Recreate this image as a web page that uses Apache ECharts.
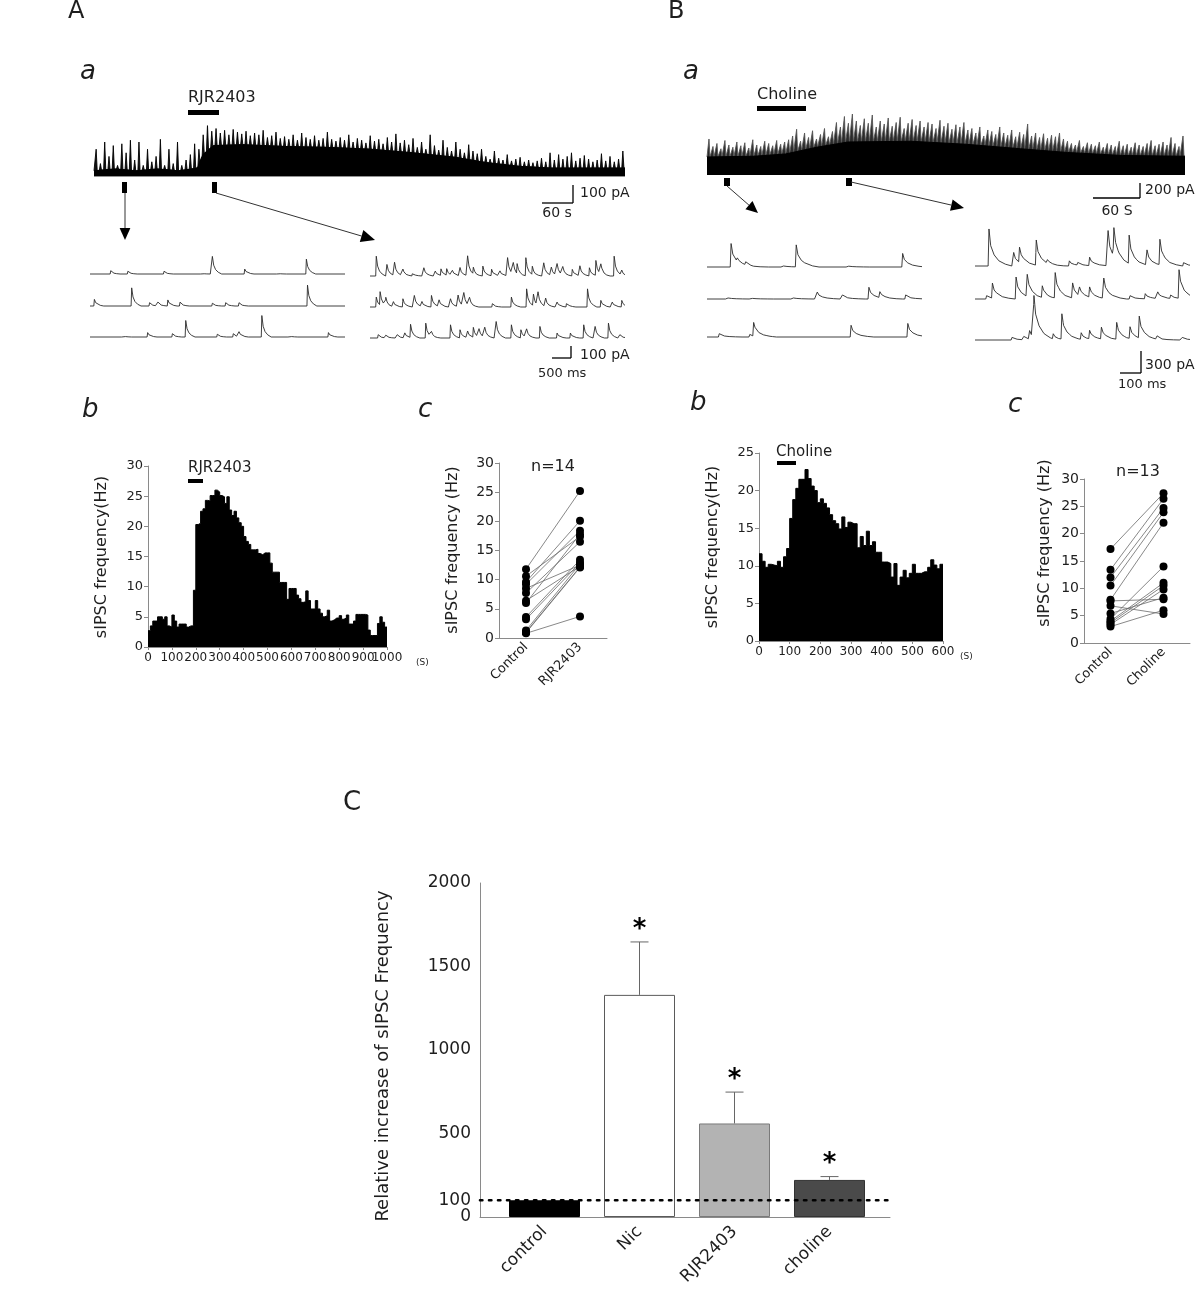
<!DOCTYPE html>
<html><head><meta charset="utf-8">
<script src="https://cdn.jsdelivr.net/npm/echarts@6/dist/echarts.min.js"></script>
<style>html,body{margin:0;padding:0;background:#fff}#c{width:1200px;height:1296px}</style>
</head><body><div id="c"></div>
<script>
// ---------------- DATA ----------------
// Panel A(a): long recording, peak amplitude (pA) of successive events, 0-1000 s
const peaksA = [150,70,190,110,170,60,180,130,200,90,190,60,150,80,110,205,60,150,70,190,60,90,120,180,
  150,230,
  283,250,265,240,255,230,260,245,235,250,225,240,230,255,215,225,245,210,220,205,230,200,240,215,205,225,200,210,245,205,195,215,200,230,190,210,200,185,225,195,205,180,215,190,235,185,200,175,
  210,160,190,150,230,170,145,200,160,140,190,150,130,175,140,125,
  150,110,95,140,100,90,120,85,95,105,80,90,75,85,100,80,130,90,120,95,110,130,85,100,115,95,80,90,125,85,110,80,95,140];
// dense activity envelope [s, pA]
const coreA = [[0,30],[40,40],[80,30],[120,40],[160,30],[195,45],[205,120],[225,170],[280,175],[360,165],[440,160],[520,150],[600,130],[680,105],[740,75],[800,55],[860,45],[920,45],[1000,45]];
const durA = 1000;
// Panel B(a): long recording, 0-610 s
const peaksB = [480,380,420,350,460,400,370,440,390,430,360,470,400,380,450,420,390,460,410,440,
  470,520,610,450,560,500,590,480,540,620,510,580,
  700,640,780,690,813,720,660,750,690,800,640,720,680,760,650,700,770,620,690,740,660,720,640,700,680,620,730,650,690,610,670,640,700,600,
  620,560,640,520,600,580,540,640,560,530,600,510,570,540,680,520,560,500,550,490,530,510,560,480,
  450,420,400,460,380,430,410,390,440,370,420,400,380,450,390,410,370,430,400,380,420,460,390,410,440,400,500,420,380,520];
const coreB = [[0,240],[60,250],[100,280],[140,370],[180,440],[260,450],[330,410],[400,350],[460,300],[530,260],[610,250]];
const durB = 610;

// Expanded sweeps: events [time (s), amplitude (pA)]
const evA_pre = [
  [[0.53,30],[0.98,25],[1.93,25],[2.9,8],[3.2,160],[4.05,45],[4.9,8],[5.67,135]],
  [[0.1,60],[1.08,165],[1.55,30],[1.77,35],[2.03,55],[2.35,35],[3.2,25],[3.55,30],[3.9,30],[5.7,190]],
  [[0.83,15],[1.5,40],[2.15,30],[2.5,150],[3.33,25],[3.75,30],[3.9,45],[4.5,195],[5.2,15],[6.25,40]]
];
const evA_post = [
  [[0.15,180],[0.43,105],[0.63,120],[0.85,60],[1.1,30],[1.4,75],[1.7,45],[1.85,60],[2.0,60],[2.15,45],[2.35,75],[2.55,180],[2.7,60],[2.95,90],[3.18,60],[3.4,45],[3.6,165],[3.75,105],[3.85,90],[4.08,165],[4.25,75],[4.55,120],[4.75,75],[4.9,105],[5.05,75],[5.3,60],[5.5,90],[5.75,75],[5.92,135],[6.05,90],[6.4,180],[6.6,45]],
  [[0.15,90],[0.25,120],[0.4,75],[0.6,45],[0.85,75],[1.15,105],[1.35,45],[1.6,105],[1.8,60],[2.1,75],[2.3,105],[2.45,120],[2.6,75],[3.2,30],[3.7,90],[4.1,165],[4.28,105],[4.4,120],[4.6,75],[4.9,45],[5.15,45],[5.7,165],[6.05,60],[6.35,45],[6.6,60]],
  [[0.2,30],[0.4,24],[0.7,30],[0.9,45],[1.05,120],[1.45,135],[1.6,45],[2.1,120],[2.35,75],[2.55,60],[2.7,90],[2.85,75],[3.0,90],[3.3,150],[3.7,120],[3.95,75],[4.1,75],[4.45,105],[4.9,45],[5.25,45],[5.6,120],[5.9,105],[6.25,135],[6.55,30]]
];
const sweepA = 6.7;
const evB_pre = [
  [[0.108,320],[0.137,40],[0.176,40],[0.344,25],[0.411,300],[0.647,20],[0.906,185]],
  [[0.086,25],[0.2,15],[0.39,25],[0.509,95],[0.626,55],[0.749,160],[0.8,80],[0.92,55]],
  [[0.053,45],[0.195,35],[0.213,185],[0.666,160],[0.93,185]]
];
const evB_post = [
  [[0.061,505],[0.176,185],[0.203,205],[0.281,345],[0.333,45],[0.435,70],[0.474,35],[0.529,115],[0.615,480],[0.642,390],[0.713,390],[0.796,205],[0.856,345],[0.966,45]],
  [[0.05,45],[0.077,205],[0.187,300],[0.239,300],[0.309,160],[0.369,345],[0.45,205],[0.482,115],[0.529,140],[0.595,275],[0.717,45],[0.788,70],[0.846,90],[0.906,45],[0.945,390]],
  [[0.168,35],[0.223,45],[0.25,115],[0.27,575],[0.36,70],[0.4,345],[0.49,90],[0.529,115],[0.584,160],[0.655,230],[0.717,160],[0.76,300],[0.843,45],[0.96,35]]
];
const sweepB = 1.0;
// PSC waveform shapes [s after onset, fraction of peak]
const kernelA = [[0,0],[0.015,1],[0.05,0.5],[0.1,0.25],[0.17,0.1],[0.26,0]];
const kernelB = [[0,0],[0.004,1],[0.012,0.55],[0.028,0.3],[0.05,0.14],[0.08,0.05],[0.11,0]];

// Panel (b) histograms, 10 s bins
const binW = 10;
const histA = [2.7,3.5,4.3,4.3,5.0,5.0,4.6,5.0,3.5,3.3,5.3,4.3,3.3,3.8,3.8,3.8,3.3,3.5,3.5,9.4,
  20.3,20.5,22.5,22.9,24.3,24.2,25.1,25.1,26.0,25.7,25.1,24.9,23.8,24.9,22.7,21.8,22.5,21.4,20.6,20.0,
  18.3,17.5,17.0,16.1,16.1,16.2,15.5,15.3,15.6,15.6,15.6,13.9,12.4,12.4,12.4,10.7,10.7,10.7,7.9,9.7,
  9.7,9.7,8.6,8.0,7.4,7.5,9.3,7.7,6.3,6.3,7.7,6.3,5.6,5.0,5.2,6.1,4.3,4.5,4.8,4.8,
  5.2,4.6,4.8,5.3,3.8,3.8,4.3,5.4,5.4,5.4,5.4,5.3,2.8,1.9,1.9,1.9,3.9,5.0,4.1,3.3];
const histB = [11.6,10.6,9.8,10.2,10.1,10.0,10.6,9.8,11.2,12.3,
  16.3,18.8,20.3,21.5,21.5,22.8,21.6,20.6,20.0,18.4,
  18.9,18.3,17.7,16.8,16.0,15.6,14.9,16.5,15.1,15.8,
  15.6,15.6,12.4,13.9,12.7,14.6,12.7,13.2,11.8,11.8,
  10.5,10.5,10.3,8.5,10.3,7.4,8.5,9.4,8.4,9.0,
  10.2,9.0,9.0,9.2,9.2,9.8,10.8,10.1,9.6,10.2];
const histA_xticks = [0,100,200,300,400,500,600,700,800,900,1000];
const histB_xticks = [0,100,200,300,400,500,600];
const histA_ymax = 30, histB_ymax = 25;

// Panel (c) paired scatter
const scatA_cat = ['Control','RJR2403'];
const scatA_ctrl = [11.8,10.6,9.6,9.2,8.5,7.7,6.4,6.0,3.6,3.2,1.3,1.0,0.9,0.8];
const scatA_drug = [25.2,17.4,20.1,18.4,12.5,16.5,12.3,17.8,13.4,12.9,12.7,12.2,12.1,3.7];
const scatB_cat = ['Control','Choline'];
const scatB_ctrl = [17.2,13.4,12.0,10.5,7.9,7.7,4.4,4.0,3.7,3.4,5.4,3.0,6.8];
const scatB_drug = [27.4,26.4,24.7,23.9,22.0,8.0,14.0,11.0,10.5,9.8,8.3,6.0,5.3];

// Panel C bar chart
const barCats = ['control','Nic','RJR2403','choline'];
const barMeans = [100,1330,560,222];
const barErrs = [0,317,188,20];
const barSig = ['','*','*','*'];
const barYTicks = [0,100,500,1000,1500,2000];
const refLevel = 100;

// ---------------- BUILD ----------------
const FONT = 'DejaVu Sans';
const TXT = '#1e1e1e';
const grids=[], xAxes=[], yAxes=[], series=[], extraX=[], extraY=[];
function addGrid(g, xa, ya){
  const i = grids.length;
  grids.push(Object.assign({containLabel:false, outerBoundsMode:'none'}, g));
  xAxes.push(Object.assign({gridIndex:i}, xa));
  yAxes.push(Object.assign({gridIndex:i}, ya));
  return i;
}
const hid = (min,max)=>({type:'value', show:false, min, max, splitLine:{show:false}});

function kval(k, d){
  if (d <= k[0][0] || d >= k[k.length-1][0]) return 0;
  for (let i=1;i<k.length;i++){
    if (d <= k[i][0]){ const [x0,y0]=k[i-1],[x1,y1]=k[i]; return y0+(y1-y0)*(d-x0)/(x1-x0); }
  }
  return 0;
}
function buildSweep(events, kernel, tEnd){
  const ts = new Set([0, tEnd]);
  events.forEach(([te])=>kernel.forEach(([dt])=>{const t=+(te+dt).toFixed(5); if(t>=0&&t<=tEnd) ts.add(t);}));
  return [...ts].sort((a,b)=>a-b).map(t=>[t, events.reduce((s,[te,a])=>s+a*kval(kernel,t-te),0)]);
}
function envAt(env, t){
  for (let i=1;i<env.length;i++) if (t<=env[i][0]){ const [x0,y0]=env[i-1],[x1,y1]=env[i]; return y0+(y1-y0)*(t-x0)/(x1-x0); }
  return env[env.length-1][1];
}

// main traces: spikes rising from the dense-activity envelope
function mainTrace(rect, dur, yMin, yMax, peaks, core, fill, spikeColor){
  const g = addGrid(rect, hid(0,dur), hid(yMin,yMax));
  const dt = dur/peaks.length, pts = [[0, envAt(core,0)]];
  peaks.forEach((p,i)=>{ const t0=i*dt; pts.push([t0+0.25*dt, envAt(core,t0+0.25*dt)]); pts.push([t0+0.5*dt, p]); pts.push([t0+0.75*dt, envAt(core,t0+0.75*dt)]); });
  pts.push([dur, envAt(core,dur)]);
  series.push({type:'line', xAxisIndex:g, yAxisIndex:g, data:pts, symbol:'none',
    lineStyle:{width:0.9,color:spikeColor}, areaStyle:{color:fill,opacity:1}, z:2});
  series.push({type:'line', xAxisIndex:g, yAxisIndex:g, data:core, symbol:'none',
    lineStyle:{width:1,color:'#000'}, areaStyle:{color:'#000',opacity:1}, z:3});
}
mainTrace({left:94, top:126, width:531, height:52}, durA, -10, 278.9, peaksA, coreA, '#111', '#000');
mainTrace({left:707, top:111, width:478, height:66}, durB, -26.7, 853.3, peaksB, coreB, '#2a2a2a', '#555');

function sweeps(evs, kernel, dur, left, width, baselines, above, pxPerPA){
  evs.forEach((ev, r)=>{
    const b = baselines[r];
    const g = addGrid({left, width, top:b-above, height:above+2}, hid(0,dur), hid(-2/pxPerPA, above/pxPerPA));
    series.push({type:'line', xAxisIndex:g, yAxisIndex:g, data:buildSweep(ev, kernel, dur), symbol:'none',
      lineStyle:{width:0.9, color:'#2a2a2a'}});
  });
}
sweeps(evA_pre, kernelA, sweepA, 90, 255, [274,306,337], 28, 0.11);
sweeps(evA_post, kernelA, sweepA, 370, 255, [276,307,338], 28, 0.11);
sweeps(evB_pre, kernelB, sweepB, 707, 215, [267,299,337], 44, 0.0733);
sweeps(evB_post, kernelB, sweepB, 975, 215, [266,299,340], 44, 0.0733);

// label-only companion axis (so crowded neighbouring tick labels are not dropped)
function labelAxis(list, g, type, min, max, values, labelOpt, extra){
  list.push(Object.assign({gridIndex:g, type:'value', min, max, axisLine:{show:false}, axisTick:{show:false}, splitLine:{show:false},
    axisLabel:Object.assign({}, labelOpt, {customValues:values, showMinLabel:true, showMaxLabel:true})}, extra||{}));
}

// histograms
const axLine = {show:true, lineStyle:{color:'#8a8a8a', width:1}};
const plain = v=>String(v);
const lab = (fs, extra)=>Object.assign({fontFamily:FONT, fontSize:fs, color:TXT, showMinLabel:true, showMaxLabel:true, hideOverlap:false, formatter:plain}, extra||{});
function hist(rect, vals, xticks, ymax){
  const data = vals.map((v,i)=>[i*binW, v]); data.push([vals.length*binW, vals[vals.length-1]]);
  const xmax = xticks[xticks.length-1];
  const even = xticks.filter((v,i)=>i%2===0), odd = xticks.filter((v,i)=>i%2===1);
  const xl = lab(12,{margin:5});
  const g = addGrid(rect,
    {type:'value', min:0, max:xmax, interval:100, axisLine:axLine, axisTick:{show:true,length:3,lineStyle:{color:'#8a8a8a'}},
      axisLabel:Object.assign({}, xl, {customValues:even}), splitLine:{show:false}},
    {type:'value', min:0, max:ymax, interval:5, axisLine:axLine, axisTick:{show:true,length:4,lineStyle:{color:'#8a8a8a'}},
      axisLabel:lab(13,{margin:5}), splitLine:{show:false}});
  labelAxis(extraX, g, 'value', 0, xmax, odd, xl, {position:'bottom'});
  series.push({type:'line', xAxisIndex:g, yAxisIndex:g, step:'end', data, symbol:'none',
    lineStyle:{width:1,color:'#000'}, areaStyle:{color:'#000',opacity:1}});
}
hist({left:148, top:466, width:239, height:181}, histA, histA_xticks, histA_ymax);
hist({left:759, top:453, width:184, height:188}, histB, histB_xticks, histB_ymax);

// paired scatter
function paired(rect, cats, ctrl, drug){
  const g = addGrid(rect,
    {type:'category', data:cats, boundaryGap:true, axisLine:axLine, axisTick:{show:false},
      axisLabel:lab(13,{rotate:45, margin:7, formatter:null})},
    {type:'value', min:0, max:30, interval:5, axisLine:axLine, axisTick:{show:true,length:4,lineStyle:{color:'#8a8a8a'}},
      axisLabel:lab(14,{margin:5}), splitLine:{show:false}});
  ctrl.forEach((c,i)=>series.push({type:'line', xAxisIndex:g, yAxisIndex:g, data:[c, drug[i]], symbol:'none',
    lineStyle:{width:0.8,color:'#6a6a6a'}, z:2}));
  series.push({type:'scatter', xAxisIndex:g, yAxisIndex:g, data:ctrl.map(v=>[0,v]), symbolSize:8, itemStyle:{color:'#000',opacity:1}, z:3});
  series.push({type:'scatter', xAxisIndex:g, yAxisIndex:g, data:drug.map(v=>[1,v]), symbolSize:8, itemStyle:{color:'#000',opacity:1}, z:3});
}
paired({left:499, top:463, width:108, height:175}, scatA_cat, scatA_ctrl, scatA_drug);
paired({left:1084, top:479, width:106, height:164}, scatB_cat, scatB_ctrl, scatB_drug);

// bar chart C
const barColors = ['#000000','#ffffff','#b3b3b3','#4a4a4a'];
const barBorders = ['#000000','#5a5a5a','#7a7a7a','#333333'];
const yl = lab(17,{margin:9});
const gC = addGrid({left:497, top:883, width:380, height:334},
  {type:'category', data:barCats, boundaryGap:true, axisLine:{show:false}, axisTick:{show:false},
    axisLabel:lab(17,{rotate:45, margin:12, formatter:null})},
  {type:'value', min:0, max:2000, offset:17, axisLine:axLine, axisTick:{show:false},
    axisLabel:Object.assign({}, yl, {customValues:barYTicks.filter(v=>v!==refLevel)}), splitLine:{show:false}});
labelAxis(extraY, gC, 'value', 0, 2000, barYTicks.filter(v=>v===refLevel), yl, {position:'left', offset:17});
series.push({type:'bar', xAxisIndex:gC, yAxisIndex:gC, barWidth:71,
  data: barMeans.map((v,i)=>({value:v, itemStyle:{color:barColors[i], borderColor:barBorders[i], borderWidth:1}})), z:2});
series.push({type:'custom', xAxisIndex:gC, yAxisIndex:gC, z:3,
  data: barMeans.map((m,i)=>[i, m, barErrs[i]]),
  renderItem:(params, api)=>{
    const i=api.value(0), m=api.value(1), e=api.value(2);
    if (!e) return {type:'group', children:[]};
    const p0=api.coord([i,m]), p1=api.coord([i,m+e]); const cap=9;
    return {type:'group', children:[
      {type:'line', shape:{x1:p0[0],y1:p0[1],x2:p1[0],y2:p1[1]}, style:{stroke:'#666',lineWidth:1}},
      {type:'line', shape:{x1:p1[0]-cap,y1:p1[1],x2:p1[0]+cap,y2:p1[1]}, style:{stroke:'#666',lineWidth:1}},
      {type:'text', x:p1[0], y:p1[1]+1, style:{text:barSig[params.dataIndex], fontSize:26, fontWeight:'bold', fontFamily:FONT, fill:'#000',
        textAlign:'center', textVerticalAlign:'bottom', align:'center', verticalAlign:'bottom'}}
    ]};
  }});
const gCo = addGrid({left:480, top:883, width:410, height:334},
  {type:'value', min:0, max:1, axisLine:axLine, axisTick:{show:false}, axisLabel:{show:false}, splitLine:{show:false}},
  hid(0,2000));
series.push({type:'line', xAxisIndex:gCo, yAxisIndex:gCo, data:[[0,refLevel],[1,refLevel]], symbol:'none', z:4,
  lineStyle:{color:'#000', width:2.6, type:[2.4,6.6], cap:'round'}});

// ---------------- ANNOTATIONS ----------------
const G = [];
function txt(x,y,s,fs,opt){ G.push(Object.assign({type:'text', x, y, style:Object.assign({text:s, fontSize:fs, fontFamily:FONT, fill:TXT,
  textAlign:'left', textVerticalAlign:'middle'}, (opt&&opt.style)||{})}, (opt&&opt.el)||{})); }
function vtxt(x,y,s,fs){ G.push({type:'text', x, y, rotation:Math.PI/2, style:{text:s, fontSize:fs, fontFamily:FONT, fill:TXT, textAlign:'center', textVerticalAlign:'middle'}}); }
function line(x1,y1,x2,y2,w,c){ G.push({type:'line', shape:{x1,y1,x2,y2}, style:{stroke:c||'#000', lineWidth:w||1.3}}); }
function rect(x,y,w,h){ G.push({type:'rect', shape:{x,y,width:w,height:h}, style:{fill:'#000'}}); }
function arrow(x1,y1,x2,y2,head){
  const a=Math.atan2(y2-y1,x2-x1), bx=x2-head*Math.cos(a), by=y2-head*Math.sin(a), w=head*0.45;
  line(x1,y1,bx,by,1,'#333');
  G.push({type:'polygon', shape:{points:[[x2,y2],[bx+w*Math.sin(a),by-w*Math.cos(a)],[bx-w*Math.sin(a),by+w*Math.cos(a)]]}, style:{fill:'#000'}});
}
const ital = {style:{fontStyle:'italic'}};
// panel letters
txt(68,12,'A',24); txt(668,12,'B',24); txt(343,803,'C',26);
txt(80,72,'a',26,ital); txt(683,72,'a',26,ital);
txt(82,410,'b',26,ital); txt(690,403,'b',26,ital);
txt(418,410,'c',26,ital); txt(1008,405,'c',26,ital);
// A(a)
txt(188,98,'RJR2403',16); rect(188,110,31,5);
rect(122,182,5,11); rect(212,182,5,11);
arrow(125,193,125,240,12); arrow(216,193,375,240,14);
line(542,203,573,203); line(573,185,573,203);
txt(580,193,'100 pA',14); txt(557,213,'60 s',14,{style:{textAlign:'center'}});
line(552,358,571,358); line(571,346,571,358);
txt(580,355,'100 pA',14); txt(538,374,'500 ms',13);
// B(a)
txt(757,95,'Choline',16); rect(757,106,49,5);
rect(724,178,6,8); rect(846,178,6,8);
arrow(727,186,758,213,12); arrow(851,182,964,208,13);
line(1093,198,1140,198); line(1140,183,1140,198);
txt(1145,190,'200 pA',14); txt(1117,211,'60 S',14,{style:{textAlign:'center'}});
line(1120,373,1141,373); line(1141,351,1141,373);
txt(1145,365,'300 pA',14); txt(1118,385,'100 ms',13);
// (b) histograms
txt(188,468,'RJR2403',15); rect(188,479,15,4);
txt(416,663,'(S)',9);
vtxt(102,557,'sIPSC frequency(Hz)',16);
txt(776,452,'Choline',15); rect(777,461,19,4);
txt(960,657,'(S)',9);
vtxt(713,547,'sIPSC frequency(Hz)',16);
// (c) scatter
txt(553,467,'n=14',16,{style:{textAlign:'center'}});
vtxt(453,550,'sIPSC frequency (Hz)',16);
txt(1138,472,'n=13',16,{style:{textAlign:'center'}});
vtxt(1045,543,'sIPSC frequency (Hz)',16);
// C
vtxt(383,1056,'Relative increase of sIPSC Frequency',18);

const chart = echarts.init(document.getElementById('c'), null, {renderer:'canvas'});
chart.setOption({animation:false, backgroundColor:'#fff', grid:grids, xAxis:xAxes.concat(extraX), yAxis:yAxes.concat(extraY), series, graphic:G});
</script></body></html>
